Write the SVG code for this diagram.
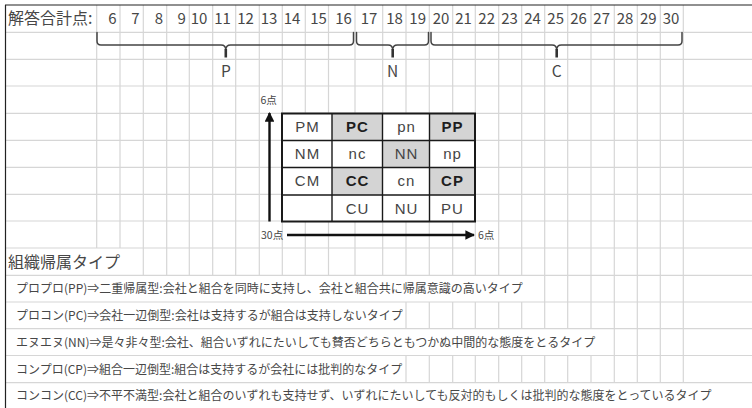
<svg xmlns="http://www.w3.org/2000/svg" width="752" height="408" viewBox="0 0 752 408">
<style>
.grid{stroke:#d6d6d6;stroke-width:1.2;fill:none}
.jp{font-family:"Noto Sans CJK JP","Noto Sans",sans-serif;fill:#474747}
.hd{font-size:16px}
.num{font-size:15px;text-anchor:middle}
.lbl{font-size:15.5px;text-anchor:middle}
.desc{font-size:12px}
.brace{stroke:#444;stroke-width:1.5;fill:none;stroke-linecap:round}
.stem{stroke:#333;stroke-width:2.6;fill:none}
.cell{fill:#fff}
.shade{fill:#d4d4d4}
.mt{font-family:"Liberation Sans",Arial,sans-serif;font-size:15px;fill:#444;text-anchor:middle;letter-spacing:1px}
.mb{font-weight:bold;fill:#1e1e1e}
.ax{stroke:#111;stroke-width:2.4;fill:none}
.small{font-size:10.5px}
</style>
<defs>
<marker id="ah" viewBox="0 0 10 10" refX="9" refY="5" markerWidth="4.4" markerHeight="4" orient="auto" markerUnits="strokeWidth">
<path d="M0,0 L10,5 L0,10 z" fill="#111"/>
</marker>
</defs>
<rect width="752" height="408" fill="#fff"/>
<g id="grid">
<path class="grid" d="M5,32.3H752M5,59.3H752M5,86H752M5,113.3H752M5,140.3H752M5,167.3H752M5,194.3H752M5,221H752M5,248H752M5,275.3H752M5,302H752M5,328.7H752M5,355.5H752M5,382.7H752"/>
<path class="grid" d="M96.7,5V248M120,5V248M143.3,5V275.3M166.7,5V275.3M189.3,5V275.3M212.7,5V275.3M235.7,5V275.3M259.3,5V275.3M282.3,5V275.3M305.3,5V275.3M328.5,5V275.3M355,5V275.3M382.7,5V275.3M406,5V275.3M429.3,5V275.3M452.7,5V275.3M475.3,5V275.3M498.7,5V275.3M521.7,5V275.3M544.7,5V302M567.7,5V302M591,5V302M614.3,5V382.7M637.3,5V382.7M660.3,5V382.7M683.3,5V382.7"/>
<path class="grid" d="M406,302V328.7M429.3,302V328.7M452.7,302V328.7M475.3,302V328.7M498.7,302V328.7M521.7,302V328.7M544.7,302V328.7M567.7,302V328.7M591,302V328.7"/>
<path class="grid" d="M406,355.5V382.7M429.3,355.5V382.7M452.7,355.5V382.7M475.3,355.5V382.7M498.7,355.5V382.7M521.7,355.5V382.7M544.7,355.5V382.7M567.7,355.5V382.7M591,355.5V382.7"/>
<path d="M5,5H752M5.5,5V408" stroke="#222" stroke-width="1.2" fill="none"/>
</g>
<g id="header">
<text class="jp hd" x="8" y="24">解答合計点:</text>
<g class="jp num">
<text x="112.5" y="24">6</text><text x="135.3" y="24">7</text><text x="159" y="24">8</text><text x="181.7" y="24">9</text>
<text x="199" y="24">10</text><text x="222.5" y="24">11</text><text x="245.5" y="24">12</text><text x="269" y="24">13</text>
<text x="292" y="24">14</text><text x="318.5" y="24">15</text><text x="343.5" y="24">16</text><text x="369" y="24">17</text>
<text x="394.5" y="24">18</text><text x="417.7" y="24">19</text><text x="441" y="24">20</text><text x="463.5" y="24">21</text>
<text x="486.7" y="24">22</text><text x="509.5" y="24">23</text><text x="532.5" y="24">24</text><text x="555.7" y="24">25</text>
<text x="578.5" y="24">26</text><text x="601.7" y="24">27</text><text x="625" y="24">28</text><text x="648.3" y="24">29</text>
<text x="671" y="24">30</text>
</g>
</g>
<g id="connectors">
<g id="brace-P">
<path class="brace" d="M97,32.5V41Q97,45 101,45H221Q225.8,45 225.8,50M225.8,50Q225.8,45 230.6,45H349.5Q353.5,45 353.5,41V32.5"/>
<path class="stem" d="M225.8,49V57.5"/>
</g>
<g id="brace-N">
<path class="brace" d="M356.5,32.5V41Q356.5,45 360.5,45H388Q392.7,45 392.7,50M392.7,50Q392.7,45 397.4,45H424.5Q428.5,45 428.5,41V32.5"/>
<path class="stem" d="M392.7,49V57.5"/>
</g>
<g id="brace-C">
<path class="brace" d="M431,32.5V41Q431,45 435,45H552Q556.7,45 556.7,50M556.7,50Q556.7,45 561.4,45H678Q682,45 682,41V32.5"/>
<path class="stem" d="M556.7,49V57.5"/>
</g>
<line id="axis-y" class="ax" x1="269.5" y1="221.5" x2="269.5" y2="113" marker-end="url(#ah)"/>
<line id="axis-x" class="ax" x1="287" y1="235" x2="474" y2="235" marker-end="url(#ah)"/>
</g>
<g id="group-labels" class="jp lbl">
<text x="225.8" y="76.5">P</text>
<text x="392.7" y="76.5">N</text>
<text x="556.7" y="76.5">C</text>
</g>
<g id="matrix">
<rect class="cell" x="282" y="113.5" width="193" height="108"/>
<rect class="shade" x="332" y="113.5" width="50.5" height="27"/>
<rect class="shade" x="429.5" y="113.5" width="45.5" height="27"/>
<rect class="shade" x="382.5" y="140.5" width="47" height="27"/>
<rect class="shade" x="332" y="167.5" width="50.5" height="27.5"/>
<rect class="shade" x="429.5" y="167.5" width="45.5" height="27.5"/>
<path d="M332,113.5V221.5M382.5,113.5V221.5M429.5,113.5V221.5M282,140.5H475M282,167.5H475M282,195H475" stroke="#1a1a1a" stroke-width="1.4" fill="none"/>
<rect x="282" y="113.5" width="193" height="108" fill="none" stroke="#1a1a1a" stroke-width="2"/>
<g id="cell-PM"><text class="mt" x="307.5" y="132">PM</text></g>
<g id="cell-PC"><text class="mt mb" x="357.5" y="132">PC</text></g>
<g id="cell-pn"><text class="mt" x="406.5" y="132">pn</text></g>
<g id="cell-PP"><text class="mt mb" x="452.5" y="132">PP</text></g>
<g id="cell-NM"><text class="mt" x="307.5" y="159">NM</text></g>
<g id="cell-nc"><text class="mt" x="357.5" y="159">nc</text></g>
<g id="cell-NN"><text class="mt" x="406.5" y="159">NN</text></g>
<g id="cell-np"><text class="mt" x="452.5" y="159">np</text></g>
<g id="cell-CM"><text class="mt" x="307.5" y="186">CM</text></g>
<g id="cell-CC"><text class="mt mb" x="357.5" y="186">CC</text></g>
<g id="cell-cn"><text class="mt" x="406.5" y="186">cn</text></g>
<g id="cell-CP"><text class="mt mb" x="452.5" y="186">CP</text></g>
<g id="cell-CU"><text class="mt" x="357.5" y="213.5">CU</text></g>
<g id="cell-NU"><text class="mt" x="406.5" y="213.5">NU</text></g>
<g id="cell-PU"><text class="mt" x="452.5" y="213.5">PU</text></g>
</g>
<g id="axis-labels" class="jp small">
<text x="260.5" y="104">6点</text>
<text x="261" y="239">30点</text>
<text x="478" y="239">6点</text>
</g>
<g id="legend" class="jp">
<text class="hd" x="8" y="267.5">組織帰属タイプ</text>
<text class="desc" x="16" y="292.6">プロプロ(PP)⇒二重帰属型:会社と組合を同時に支持し、会社と組合共に帰属意識の高いタイプ</text>
<text class="desc" x="16" y="319.8">プロコン(PC)⇒会社一辺倒型:会社は支持するが組合は支持しないタイプ</text>
<text class="desc" x="16" y="346.8">エヌエヌ(NN)⇒是々非々型:会社、組合いずれにたいしても賛否どちらともつかぬ中間的な態度をとるタイプ</text>
<text class="desc" x="16" y="373.5">コンプロ(CP)⇒組合一辺倒型:組合は支持するが会社には批判的なタイプ</text>
<text class="desc" x="16" y="399.5">コンコン(CC)⇒不平不満型:会社と組合のいずれも支持せず、いずれにたいしても反対的もしくは批判的な態度をとっているタイプ</text>
</g>
</svg>
